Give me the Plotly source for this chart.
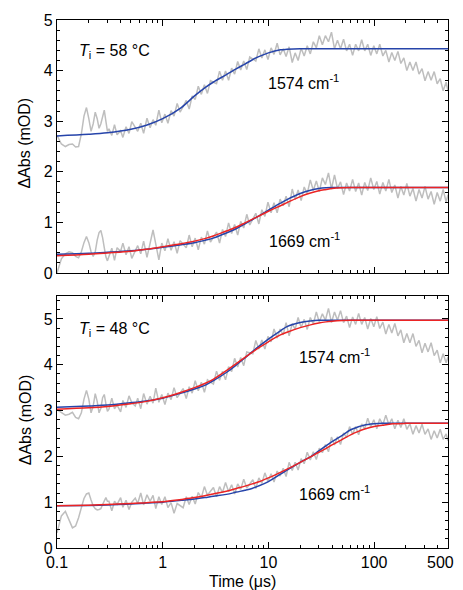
import plotly.graph_objects as go
from plotly.subplots import make_subplots

# Time axis of the measured transients (µs)
time_us = [0.10, 0.11, 0.12, 0.13, 0.14, 0.15, 0.16, 0.17, 0.18, 0.19, 0.20,
           0.21, 0.22, 0.23, 0.24, 0.25, 0.26, 0.27, 0.28, 0.29, 0.30,
           0.31, 0.33, 0.35, 0.37, 0.40, 0.42, 0.45, 0.48, 0.51, 0.55,
           0.58, 0.62, 0.66, 0.71, 0.76, 0.81, 0.86, 0.92, 0.98, 1.05,
           1.12, 1.2, 1.28, 1.37, 1.46, 1.56, 1.67, 1.78, 1.9, 2.03,
           2.17, 2.32, 2.48, 2.65, 2.83, 3.02, 3.23, 3.45, 3.68, 3.93,
           4.2, 4.49, 4.79, 5.12, 5.47, 5.84, 6.24, 6.66, 7.12, 7.6,
           8.12, 8.67, 9.26, 9.9, 10.6, 11.3, 12.1, 12.9, 13.8, 14.7,
           15.7, 16.8, 17.9, 19.1, 20.4, 21.8, 23.3, 24.9, 26.6, 28.4,
           30.3, 32.4, 34.6, 37, 39.5, 42.2, 45, 48.1, 51.4, 54.9,
           58.6, 62.6, 66.9, 71.4, 76.3, 81.5, 87, 92.9, 99.3, 106,
           113, 121, 129, 138, 147, 157, 168, 179, 191, 204,
           218, 233, 249, 266, 284, 303, 324, 346, 370, 395,
           422, 450, 480, 500]

# Ti = 58 C, 1574 cm-1
data_58_1574 = [2.72, 2.55, 2.50, 2.54, 2.55, 2.49, 2.50, 2.75, 3.10, 3.27, 3.05,
                2.80, 2.95, 3.18, 3.05, 2.86, 2.95, 3.12, 3.22, 3.00, 2.80,
                2.85, 2.72, 2.93, 2.73, 2.81, 2.68, 2.89, 2.76, 2.99, 2.86,
                2.80, 2.96, 2.76, 3.06, 2.87, 3.03, 2.92, 3.22, 2.97, 3.14,
                2.96, 3.21, 3.10, 3.35, 3.18, 3.29, 3.41, 3.24, 3.50, 3.43,
                3.69, 3.53, 3.72, 3.55, 3.80, 3.77, 3.74, 3.99, 3.81, 3.99,
                3.81, 4.05, 3.93, 4.18, 4.01, 4.19, 4.02, 4.27, 4.23, 4.19,
                4.43, 4.25, 4.41, 4.22, 4.45, 4.32, 4.54, 4.31, 4.43, 4.28,
                4.47, 4.16, 4.35, 4.20, 4.44, 4.29, 4.49, 4.33, 4.57, 4.45,
                4.69, 4.51, 4.69, 4.57, 4.76, 4.43, 4.60, 4.43, 4.62, 4.39,
                4.52, 4.30, 4.52, 4.39, 4.61, 4.39, 4.52, 4.30, 4.49, 4.33,
                4.52, 4.29, 4.40, 4.17, 4.36, 4.20, 4.38, 4.14, 4.25, 4.00,
                4.17, 4.00, 4.17, 3.93, 4.04, 3.80, 3.98, 3.81, 3.98, 3.74,
                3.84, 3.60, 3.77, 3.60]

# Ti = 58 C, 1669 cm-1
data_58_1669 = [0.00, 0.28, 0.38, 0.42, 0.40, 0.33, 0.30, 0.42, 0.60, 0.72, 0.60,
                0.42, 0.33, 0.42, 0.65, 0.80, 0.84, 0.70, 0.50, 0.32, 0.24,
                0.32, 0.49, 0.25, 0.50, 0.43, 0.59, 0.36, 0.52, 0.29, 0.45,
                0.54, 0.38, 0.63, 0.31, 0.56, 0.85, 0.57, 0.26, 0.59, 0.44,
                0.68, 0.45, 0.62, 0.39, 0.64, 0.57, 0.50, 0.75, 0.52, 0.69,
                0.46, 0.71, 0.57, 0.83, 0.61, 0.71, 0.81, 0.59, 0.86, 0.72,
                0.99, 0.78, 0.96, 0.75, 1.02, 0.89, 1.16, 0.95, 1.06, 1.18,
                0.97, 1.25, 1.12, 1.40, 1.19, 1.39, 1.19, 1.46, 1.33, 1.52,
                1.31, 1.66, 1.45, 1.64, 1.43, 1.70, 1.57, 1.84, 1.63, 1.82,
                1.61, 1.88, 1.75, 1.98, 1.66, 1.94, 1.67, 1.80, 1.55, 1.78,
                1.62, 1.85, 1.61, 1.78, 1.54, 1.79, 1.63, 1.88, 1.65, 1.81,
                1.56, 1.79, 1.62, 1.85, 1.59, 1.74, 1.48, 1.71, 1.54, 1.77,
                1.52, 1.67, 1.42, 1.65, 1.48, 1.71, 1.46, 1.61, 1.36, 1.59,
                1.42, 1.65, 1.40, 1.55]

# Ti = 48 C, 1574 cm-1
data_48_1574 = [3.02, 2.95, 2.90, 2.92, 2.96, 2.85, 2.82, 2.95, 3.25, 3.44, 3.25,
                2.95, 3.10, 3.37, 3.20, 2.95, 3.05, 3.28, 3.35, 3.15, 2.98,
                3.03, 3.27, 3.04, 3.12, 2.97, 3.22, 3.07, 3.32, 3.17, 3.10,
                3.27, 3.04, 3.37, 3.14, 3.31, 3.16, 3.49, 3.18, 3.35, 3.13,
                3.38, 3.24, 3.50, 3.28, 3.38, 3.48, 3.26, 3.52, 3.38, 3.65,
                3.43, 3.62, 3.40, 3.67, 3.62, 3.58, 3.86, 3.66, 3.86, 3.67,
                3.96, 3.85, 4.14, 3.95, 4.16, 3.98, 4.28, 4.26, 4.24, 4.53,
                4.34, 4.54, 4.34, 4.62, 4.50, 4.78, 4.58, 4.78, 4.65, 4.92,
                4.63, 4.90, 4.77, 5.03, 4.81, 4.99, 4.77, 5.03, 4.89, 5.15,
                4.93, 5.11, 4.97, 5.23, 4.92, 5.15, 4.97, 5.18, 4.92, 5.06,
                4.81, 5.04, 4.88, 5.12, 4.88, 5.03, 4.78, 5.01, 4.83, 5.05,
                4.79, 4.93, 4.67, 4.88, 4.69, 4.90, 4.63, 4.76, 4.48, 4.68,
                4.48, 4.68, 4.40, 4.53, 4.26, 4.47, 4.28, 4.48, 4.20, 4.32,
                4.04, 4.24, 4.04, 4.17]

# Ti = 48 C, 1669 cm-1
data_48_1669 = [0.33, 0.70, 0.80, 0.62, 0.44, 0.48, 0.66, 0.88, 1.08, 1.18, 1.20,
                1.05, 0.92, 0.86, 0.83, 0.84, 0.86, 0.95, 1.05, 1.10, 1.02,
                1.02, 0.81, 1.02, 0.95, 1.10, 0.89, 1.04, 0.84, 1.00, 1.09,
                0.97, 1.20, 0.94, 1.16, 1.02, 1.15, 0.86, 1.12, 0.95, 1.12,
                0.88, 0.99, 0.76, 0.97, 0.92, 0.88, 1.12, 0.95, 1.13, 0.96,
                1.21, 1.10, 1.34, 1.15, 1.24, 1.32, 1.12, 1.34, 1.21, 1.43,
                1.23, 1.38, 1.18, 1.40, 1.28, 1.50, 1.31, 1.40, 1.49, 1.30,
                1.53, 1.41, 1.64, 1.45, 1.62, 1.44, 1.68, 1.57, 1.74, 1.56,
                1.87, 1.69, 1.87, 1.70, 1.95, 1.84, 2.09, 1.92, 2.10, 1.93,
                2.18, 2.08, 2.26, 2.10, 2.42, 2.25, 2.43, 2.26, 2.51, 2.41,
                2.65, 2.48, 2.65, 2.47, 2.71, 2.60, 2.83, 2.64, 2.80, 2.60,
                2.82, 2.69, 2.90, 2.69, 2.82, 2.60, 2.79, 2.63, 2.82, 2.59,
                2.71, 2.48, 2.67, 2.51, 2.70, 2.48, 2.60, 2.37, 2.56, 2.40,
                2.59, 2.37, 2.49, 2.34]

# Fit curves (blue and red), sampled on a coarser time grid
fit_time = [0.1, 0.2, 0.3, 0.5, 0.7, 1, 1.5, 2, 2.5, 3, 4, 5, 6, 7, 8, 10, 13, 15,
            20, 25, 30, 35, 40, 50, 60, 70, 80, 100, 120, 150, 200, 300, 500]

fit_58_1574_blue = [2.71, 2.74, 2.77, 2.84, 2.92, 3.05, 3.27, 3.50, 3.66, 3.77, 3.92,
                    4.04, 4.13, 4.21, 4.27, 4.35, 4.41, 4.42, 4.43, 4.43, 4.43, 4.43,
                    4.43, 4.43, 4.43, 4.43, 4.43, 4.43, 4.43, 4.43, 4.43, 4.43, 4.43]
fit_58_1669_blue = [0.37, 0.39, 0.41, 0.44, 0.47, 0.51, 0.56, 0.60, 0.645, 0.69, 0.79,
                    0.88, 0.97, 1.05, 1.12, 1.24, 1.38, 1.45, 1.57, 1.635, 1.67, 1.685,
                    1.69, 1.69, 1.69, 1.69, 1.69, 1.69, 1.69, 1.69, 1.69, 1.69, 1.69]
fit_58_1669_red = [0.34, 0.37, 0.395, 0.43, 0.47, 0.52, 0.58, 0.63, 0.68, 0.73, 0.83,
                   0.91, 0.99, 1.06, 1.12, 1.22, 1.33, 1.39, 1.51, 1.58, 1.625, 1.65,
                   1.67, 1.685, 1.69, 1.69, 1.69, 1.69, 1.69, 1.69, 1.69, 1.69, 1.69]
fit_48_1574_blue = [3.07, 3.10, 3.12, 3.17, 3.21, 3.27, 3.38, 3.47, 3.55, 3.65, 3.83,
                    4.00, 4.15, 4.28, 4.39, 4.56, 4.74, 4.83, 4.92, 4.955, 4.97, 4.97,
                    4.97, 4.97, 4.97, 4.97, 4.97, 4.97, 4.97, 4.97, 4.97, 4.97, 4.97]
fit_48_1574_red = [3.03, 3.06, 3.09, 3.15, 3.20, 3.28, 3.40, 3.50, 3.59, 3.68, 3.87,
                   4.03, 4.16, 4.27, 4.36, 4.50, 4.65, 4.71, 4.81, 4.87, 4.91, 4.935,
                   4.95, 4.965, 4.97, 4.97, 4.97, 4.97, 4.97, 4.97, 4.97, 4.97, 4.97]
fit_48_1669_blue = [0.92, 0.93, 0.94, 0.96, 0.98, 1.00, 1.04, 1.07, 1.10, 1.13, 1.17,
                    1.22, 1.26, 1.30, 1.35, 1.45, 1.61, 1.70, 1.87, 1.99, 2.12, 2.23,
                    2.32, 2.46, 2.58, 2.64, 2.68, 2.71, 2.72, 2.72, 2.72, 2.72, 2.72]
fit_48_1669_red = [0.92, 0.935, 0.95, 0.97, 0.99, 1.01, 1.06, 1.10, 1.14, 1.18, 1.24,
                   1.30, 1.35, 1.40, 1.44, 1.53, 1.65, 1.72, 1.87, 1.99, 2.09, 2.17,
                   2.25, 2.37, 2.47, 2.54, 2.59, 2.65, 2.68, 2.71, 2.72, 2.72, 2.72]

# x tick labels; "500" sits on the right frame edge, so it is drawn as an annotation
x_major = [0.1, 1, 10, 100, 500]
x_major_text = ["0.1", "1", "10", "100", ""]
x_minor = [0.2, 0.3, 0.4, 0.5, 0.6, 0.7, 0.8, 0.9, 2, 3, 4, 5, 6, 7, 8, 9,
           20, 30, 40, 50, 60, 70, 80, 90, 200, 300, 400]

GRAY = "rgb(190,190,190)"
BLUE = "rgb(38,68,170)"
RED = "rgb(236,36,36)"
FONT = "Arial, Liberation Sans, sans-serif"

fig = make_subplots(rows=2, cols=1)


def add_gray(y, row):
    fig.add_trace(go.Scatter(x=time_us, y=y, mode="lines",
                             line=dict(color=GRAY, width=1.5)), row=row, col=1)


def add_fit(y, color, row):
    fig.add_trace(go.Scatter(x=fit_time, y=y, mode="lines",
                             line=dict(color=color, width=1.5, shape="spline")), row=row, col=1)


# Top panel (58 C)
add_gray(data_58_1574, 1)
add_gray(data_58_1669, 1)
add_fit(fit_58_1574_blue, BLUE, 1)
add_fit(fit_58_1669_blue, BLUE, 1)
add_fit(fit_58_1669_red, RED, 1)

# Bottom panel (48 C)
add_gray(data_48_1574, 2)
add_gray(data_48_1669, 2)
add_fit(fit_48_1574_blue, BLUE, 2)
add_fit(fit_48_1669_blue, BLUE, 2)
add_fit(fit_48_1574_red, RED, 2)
add_fit(fit_48_1669_red, RED, 2)

xaxis_style = dict(type="log", range=[-1, 2.69897], tickvals=x_major, ticktext=x_major_text,
                   ticks="inside", ticklen=6, tickwidth=1, tickcolor="black",
                   minor=dict(tickvals=x_minor, ticks="inside", ticklen=3, tickcolor="black"),
                   showline=True, linecolor="black", linewidth=1.2, mirror="allticks",
                   showgrid=False, zeroline=False, automargin=False,
                   tickfont=dict(family=FONT, size=16, color="black"))
yaxis_style = dict(ticks="inside", ticklen=6, tickwidth=1, tickcolor="black", dtick=1,
                   minor=dict(dtick=0.2, ticks="inside", ticklen=3, tickcolor="black"),
                   showline=True, linecolor="black", linewidth=1.2, mirror="allticks",
                   showgrid=False, zeroline=False, automargin=False,
                   tickfont=dict(family=FONT, size=16, color="black"))

fig.update_xaxes(**xaxis_style)
fig.update_yaxes(**yaxis_style)
fig.update_layout(
    xaxis=dict(showticklabels=False),
    yaxis=dict(domain=[0.5208, 1], range=[0, 5], tick0=0),
    yaxis2=dict(domain=[0, 0.4773], range=[0, 5.5], tick0=0),
)

label_font = dict(family=FONT, size=16, color="black")
labels = [
    ("x", "y", -0.81, 4.38, "<i>T</i><sub>i</sub> = 58 °C"),
    ("x", "y", 0.975, 3.78, "1574 cm<sup>-1</sup>"),
    ("x", "y", 0.99, 0.66, "1669 cm<sup>-1</sup>"),
    ("x2", "y2", -0.81, 4.76, "<i>T</i><sub>i</sub> = 48 °C"),
    ("x2", "y2", 1.27, 4.2, "1574 cm<sup>-1</sup>"),
    ("x2", "y2", 1.27, 1.19, "1669 cm<sup>-1</sup>"),
]
for xr, yr, x, y, text in labels:
    fig.add_annotation(xref=xr, yref=yr, x=x, y=y, text=text, showarrow=False,
                       xanchor="left", yanchor="middle", font=label_font)

# axis titles and the last x tick label
fig.add_annotation(xref="paper", yref="paper", x=0.4757, y=-0.0638, text="Time (μs)",
                   showarrow=False, xanchor="center", yanchor="middle", font=label_font)
fig.add_annotation(xref="paper", yref="paper", x=0.982, y=-0.0284, text="500",
                   showarrow=False, xanchor="center", yanchor="middle", font=label_font)
for yc in [0.766, 0.242]:
    fig.add_annotation(xref="paper", yref="paper", x=-0.0818, y=yc, text="ΔAbs (mOD)",
                       textangle=-90, showarrow=False, xanchor="center", yanchor="middle",
                       font=label_font)

# the page adds an 8 px body margin, so the figure is 8 px smaller on each edge
fig.update_layout(width=455, height=582, showlegend=False,
                  margin=dict(l=49, r=15, t=12, b=42),
                  paper_bgcolor="white", plot_bgcolor="white",
                  font=dict(family=FONT, size=16, color="black"))

fig.write_html("out.html")
